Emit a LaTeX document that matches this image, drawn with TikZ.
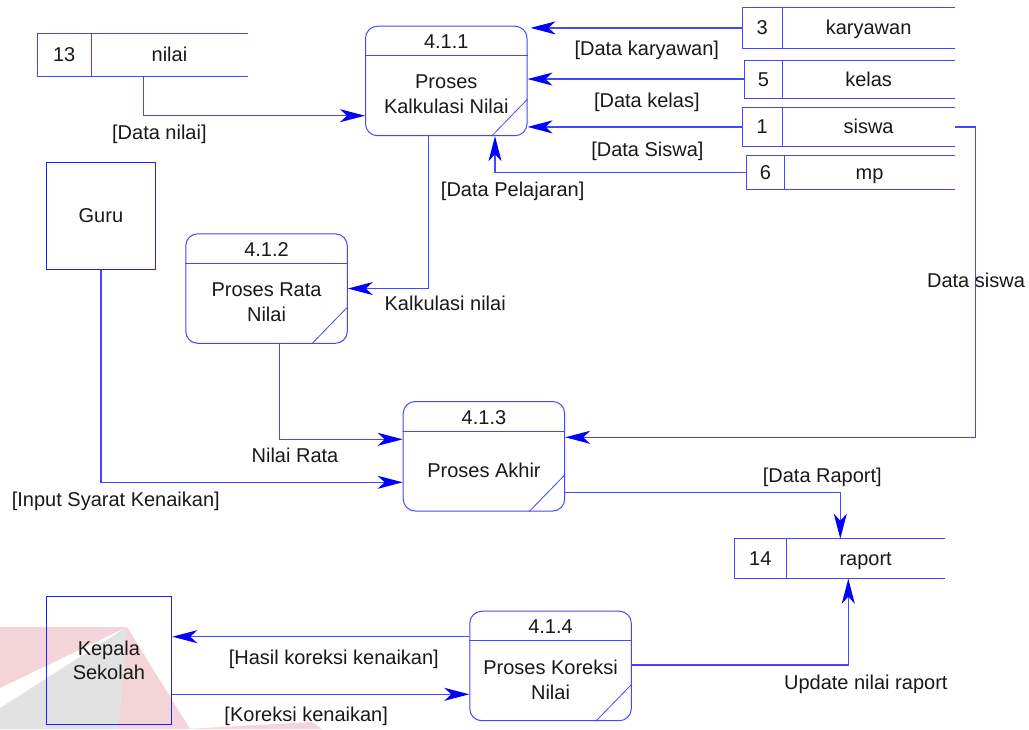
\documentclass[tikz,border=0pt]{standalone}
\usepackage{fontspec}
\setmainfont{Liberation Sans}
\usetikzlibrary{arrows.meta}

\definecolor{lineblue}{RGB}{70,70,255}
\definecolor{tipblue}{RGB}{0,0,255}
\definecolor{edgeblue}{RGB}{30,30,255}
\definecolor{markpink}{RGB}{243,212,216}
\definecolor{markgrey}{RGB}{226,226,226}
\definecolor{ink}{RGB}{25,25,25}

\tikzset{
  flow/.style={draw=lineblue, line width=1.3pt,
    -{Stealth[length=25pt,width=13pt,inset=7pt,color=tipblue]}},
  procbox/.style={draw=lineblue, line width=1pt, rounded corners=12pt,
    minimum width=161.5pt, minimum height=109.5pt, inner sep=0pt, anchor=north west},
  procline/.style={draw=lineblue, line width=1pt},
  extbox/.style={draw=edgeblue, line width=1pt, inner sep=0pt, anchor=north west,
    align=center, text=ink, font=\fontsize{20}{24.5}\selectfont},
  storebox/.style={inner sep=0pt, anchor=north west},
  storeline/.style={draw=lineblue, line width=1pt},
  lbl/.style={inner sep=0pt, text=ink, text height=14pt, text depth=4pt,
    font=\fontsize{20}{24.5}\selectfont},
  mlbl/.style={inner sep=0pt, text=ink, align=center,
    font=\fontsize{20}{25}\selectfont},
}

% process: name, left, top, number, title
\newcommand\procnode[5]{%
  \node[procbox] (#1) at (#2,#3) {};
  \draw[procline] ([yshift=-30]#1.north west) -- ([yshift=-30]#1.north east);
  \draw[procline, line width=0.8pt] ([xshift=-36]#1.south east) -- ([yshift=37]#1.south east);
  \node[lbl] (#1-id) at ([yshift=-18]#1.north) {#4};
  \node[mlbl] (#1-txt) at ([yshift=-69]#1.north) {#5};
}

% data store: name, left, top, width, height, id column width, id, label
\newcommand\storenode[8]{%
  \node[storebox, minimum width=#4, minimum height=#5] (#1) at (#2,#3) {};
  \draw[storeline] (#1.north east) -- (#1.north west) -- (#1.south west) -- (#1.south east);
  \draw[storeline] ([xshift=#6]#1.north west) -- ([xshift=#6]#1.south west);
  \node[lbl] (#1-id) at ([xshift=#6/2, yshift=-2]#1.west) {#7};
  \node[lbl] (#1-name) at ([xshift=#4/2+#6/2, yshift=-2]#1.west) {#8};
}

\begin{document}
\begin{tikzpicture}[x=1pt,y=-1pt]
\useasboundingbox[fill=white] (0,0) rectangle (1029,729);

% faint logo in the lower left corner
\fill[markpink] (0,627) -- (127,627) -- (0,688) -- cycle;
\fill[markgrey] (127,627) -- (0,708) -- (0,729) -- (118,729) -- cycle;
\fill[markpink] (127,627) -- (118,729) -- (190,729) -- cycle;
\fill[markpink] (186,729) -- (312,722) -- (322,729) -- cycle;

% external entities
\node[extbox, minimum width=109.8pt, minimum height=107.6pt] (guru) at (45.5,161.7) {Guru};
\node[extbox, minimum width=125.8pt, minimum height=128pt] (kep) at (45.5,596) {Kepala\\Sekolah};

% data stores
\storenode{s13}{37.2}{33.7}{210.4}{42}{54.1}{13}{nilai}
\storenode{s3}{742.2}{7.7}{212.6}{40}{40.2}{3}{karyawan}
\storenode{s5}{744.3}{60}{210.5}{37.7}{38.1}{5}{kelas}
\storenode{s1}{742.2}{107.7}{212.6}{38}{40.2}{1}{siswa}
\storenode{s6}{746.6}{155.7}{208.2}{33.6}{37.8}{6}{mp}
\storenode{s14}{734.3}{538.7}{210.7}{39.6}{52}{14}{raport}

% processes
\procnode{p1}{365}{25.7}{4.1.1}{Proses\\Kalkulasi Nilai}
\procnode{p2}{185.3}{233.3}{4.1.2}{Proses Rata\\Nilai}
\procnode{p3}{402.7}{401}{4.1.3}{Proses Akhir}
\procnode{p4}{469.3}{610.7}{4.1.4}{Proses Koreksi\\Nilai}

% data flows
\draw[flow] ([xshift=106]s13.south west) |- ([yshift=-90]p1.north west);
\draw[flow, shorten >=3pt] (s3.west) -- (s3.west -| p1.east);
\draw[flow] (s5.west) -- (s5.west -| p1.east);
\draw[flow] (s1.west) -- (s1.west -| p1.east);
\draw[flow] (s6.west) -| ([xshift=130]p1.south west);
\draw[flow] ([xshift=63.7]p1.south west) |- (p2.east);
\draw[flow] ([xshift=94]p2.south west) |- ([yshift=-38.3]p3.north west);
\draw[flow] (guru.south) |- ([yshift=-81.3]p3.north west);
\draw[flow] (s1.east) -- ++(20,0) |- ([yshift=-36.3]p3.north east);
\draw[flow] ([yshift=-91.7]p3.north east) -| ([xshift=106]s14.north west);
\draw[flow] ([yshift=-54.3]p4.north east) -| ([xshift=114]s14.south west);
\draw[flow] ([yshift=-26]p4.north west) -- ([yshift=-40.7]kep.north east);
\draw[flow] ([yshift=-98.3]kep.north east) -- ([yshift=-83.6]p4.north west);

% flow labels
\node[lbl] (l-nilai) at (159.4,134) {[Data nilai]};
\node[lbl] (l-kary) at (646.8,50) {[Data karyawan]};
\node[lbl] (l-kelas) at (646.8,102.5) {[Data kelas]};
\node[lbl] (l-siswa) at (647.4,151) {[Data Siswa]};
\node[lbl] (l-pel) at (512.7,191) {[Data Pelajaran]};
\node[lbl] (l-kalk) at (445.2,305) {Kalkulasi nilai};
\node[lbl] (l-rata) at (295,457.5) {Nilai Rata};
\node[lbl] (l-syarat) at (115.8,501) {[Input Syarat Kenaikan]};
\node[lbl] (l-dsiswa) at (976,282.5) {Data siswa};
\node[lbl] (l-raport) at (822.3,477.5) {[Data Raport]};
\node[lbl] (l-update) at (865.8,684.5) {Update nilai raport};
\node[lbl] (l-hasil) at (333.8,659.5) {[Hasil koreksi kenaikan]};
\node[lbl] (l-koreksi) at (306.2,716) {[Koreksi kenaikan]};
\end{tikzpicture}
\end{document}
